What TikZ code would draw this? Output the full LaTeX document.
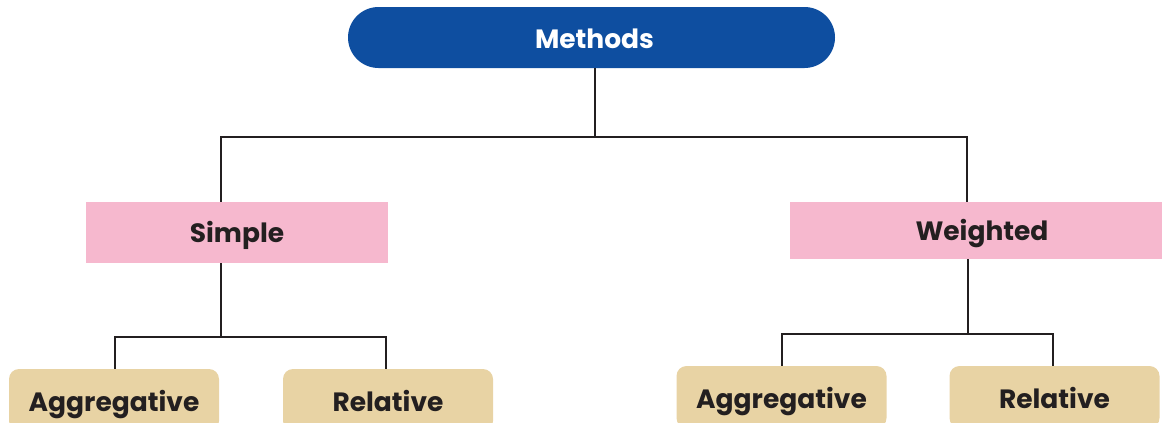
\documentclass[tikz,border=0pt]{standalone}
\usepackage{fontspec}
\setmainfont{Poppins}
\definecolor{mblue}{HTML}{0E4EA0}
\definecolor{mpink}{HTML}{F6B8CE}
\definecolor{mtan}{HTML}{E8D3A4}
\definecolor{mdark}{HTML}{231F20}
\begin{document}
\begin{tikzpicture}[x=1pt,y=-1pt,
  lbl/.style={font=\bfseries\fontsize{26.5}{31}\selectfont, text=mdark, inner sep=0pt, text height=17pt, text depth=0pt, align=center},
  topbox/.style={lbl, fill=mblue, text=white, rounded corners=30.5pt, minimum width=487pt, minimum height=61pt},
  midbox/.style={lbl, fill=mpink, minimum height=61pt},
  leafbox/.style={lbl, fill=mtan, rounded corners=10pt, minimum width=210pt, minimum height=62pt, text height=22pt},
  conn/.style={draw=mdark, line width=2.6pt}]
\useasboundingbox (0,0) rectangle (1162,423);
\clip (0,0) rectangle (1162,423);
\node[topbox] (methods) at (591.5,37.5) {};
\node[lbl, text=white] (methodstxt) at (594.5,40) {Methods};
\node[midbox, minimum width=302pt] (simple) at (237,232.5) {};
\node[lbl] (simpletxt) at (237,234) {Simple};
\node[midbox, minimum width=390pt, minimum height=57pt] (weighted) at (985,230.5) {};
\node[lbl] (weightedtxt) at (982,232) {Weighted};
\node[leafbox] (sagg) at (114,400) {Aggregative};
\node[leafbox] (srel) at (388,400) {Relative};
\node[leafbox] (wagg) at (781.5,397) {Aggregative};
\node[leafbox] (wrel) at (1054.5,397) {Relative};
% bus coordinates
\coordinate (trunk) at (595,68);
\coordinate (busL) at (221,137);
\coordinate (busR) at (967,137);
\coordinate (sdown) at (221,263);
\coordinate (sbusL) at (115,337);
\coordinate (sbusR) at (386,337);
\coordinate (wdown) at (968,259);
\coordinate (wbusL) at (782,334);
\coordinate (wbusR) at (1053,334);
\draw[conn] (trunk) -- (trunk |- busL);
\draw[conn] (busL |- simple.north) -- (busL) -- (busR) -- (busR |- weighted.north);
\draw[conn] (sdown) -- (sdown |- sbusL);
\draw[conn] (sbusL |- sagg.north) -- (sbusL) -- (sbusR) -- (sbusR |- srel.north);
\draw[conn] (wdown) -- (wdown |- wbusL);
\draw[conn] (wbusL |- wagg.north) -- (wbusL) -- (wbusR) -- (wbusR |- wrel.north);
\end{tikzpicture}
\end{document}
